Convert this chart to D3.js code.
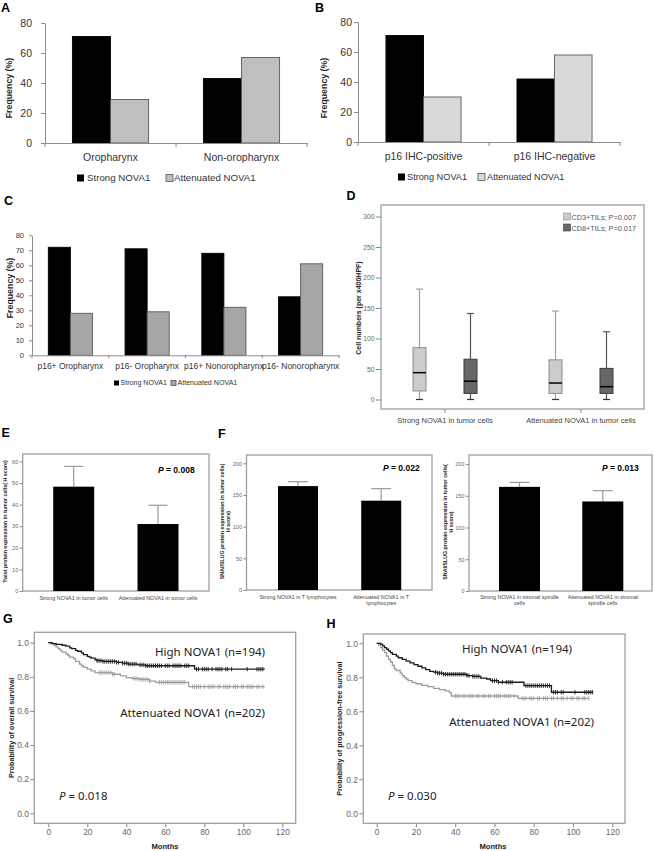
<!DOCTYPE html>
<html><head><meta charset="utf-8">
<script src="https://cdn.jsdelivr.net/npm/d3@7"></script>
<style>body{margin:0;background:#fff}svg{display:block}</style>
</head><body><svg id="fig" width="655" height="851"></svg>
<script>
// ---------------- DATA ----------------
const seriesNames = ["Strong NOVA1", "Attenuated NOVA1"];
// Panel A
const catA = ["Oropharynx", "Non-oropharynx"];
const strongA = [71, 43];
const attenA = [29, 57];
// Panel B
const catB = ["p16 IHC-positive", "p16 IHC-negative"];
const strongB = [71, 42];
const attenB = [30, 58];
const ticksAB = [0, 20, 40, 60, 80];
// Panel C
const catC = ["p16+ Oropharynx", "p16- Oropharynx", "p16+ Nonoropharynx", "p16- Nonoropharynx"];
const strongC = [72, 71, 68, 39];
const attenC = [28, 29, 32, 61];
const ticksC = [0, 10, 20, 30, 40, 50, 60, 70, 80];
// Panel D (min, q1, median, q3, max)
const catD = ["Strong NOVA1 in tumor cells", "Attenuated NOVA1 in tumor cells"];
const cd3Stats = [[0, 14, 44, 85, 181], [0, 10, 27, 65, 145]];
const cd8Stats = [[0, 10, 30, 66, 141], [0, 10, 21, 51, 111]];
const legendD = ["CD3+TILs; P=0.007", "CD8+TILs; P=0.017"];
const ticksD = [0, 50, 100, 150, 200, 250, 300];
// Panel E
const catE = [["Strong NOVA1 in tumor cells"], ["Attenuated NOVA1 in tumor cells"]];
const meanE = [48.3, 31.0];
const upperE = [57.7, 39.7];
const ticksE = [0, 10, 20, 30, 40, 50, 60];
// Panel F
const catF1 = [["Strong NOVA1 in T lymphocytes"], ["Attenuated NOVA1 in T", "lymphocytes"]];
const meanF1 = [164, 141];
const upperF1 = [171, 160];
const catF2 = [["Strong NOVA1 in stromal spindle", "cells"], ["Attenuated NOVA1 in stromal", "spindle cells"]];
const meanF2 = [164, 141];
const upperF2 = [171, 158];
const ticksF = [0, 50, 100, 150, 200];
// Panels G, H (Kaplan-Meier: [month, survival] at each drop)
const ticksKMx = [0, 20, 40, 60, 80, 100, 120];
const ticksKMy = [0, 0.2, 0.4, 0.6, 0.8, 1.0];
const gHighSteps = [[0,1],[2,0.995],[4,0.99],[7,0.985],[9,0.98],[11,0.97],[12,0.965],[14,0.955],[15,0.95],[17,0.94],[18,0.93],[20,0.92],[21,0.915],[22,0.91],[24,0.9],[25,0.895],[28,0.89],[35,0.885],[38,0.88],[41,0.875],[46,0.87],[50,0.865],[75,0.845]];
const gHighCensor = [25,26,27,28,29,30,31,32,33,34,35,36,38,39,40,41,42,43,44,45,47,48,49,50,51,52,53,54,55,56,57,58,60,61,62,64,65,66,67,68,70,71,72,76,77,79,80,81,82,84,86,87,88,89,91,92,94,102,107,108,109,110];
const gHighEnd = 111;
const gAttSteps = [[0,1],[1,0.995],[3,0.985],[4,0.975],[5,0.965],[6,0.955],[7,0.945],[9,0.935],[10,0.925],[11,0.915],[13,0.905],[14,0.89],[16,0.875],[17,0.865],[18,0.855],[20,0.845],[22,0.835],[24,0.825],[33,0.815],[37,0.805],[40,0.795],[43,0.79],[47,0.785],[52,0.775],[55,0.768],[72,0.742]];
const gAttCensor = [26,27,28,29,30,31,32,33,34,44,45,46,47,48,49,50,51,52,57,58,59,60,61,62,63,64,65,66,67,68,69,70,74,75,76,77,78,80,82,83,84,85,87,88,90,91,92,93,95,96,97,99,100,102,103,104,105,107,108,110];
const gAttEnd = 111;
const hHighSteps = [[0,1],[2,0.995],[3,0.985],[4,0.975],[5,0.965],[6,0.955],[7,0.945],[8,0.935],[10,0.925],[11,0.915],[13,0.905],[15,0.895],[17,0.885],[19,0.875],[21,0.865],[23,0.855],[25,0.845],[27,0.835],[29,0.83],[31,0.825],[34,0.818],[46,0.81],[49,0.805],[53,0.795],[56,0.79],[58,0.78],[62,0.771],[75,0.751],[89,0.712]];
const hHighCensor = [30,31,32,33,34,35,36,37,38,39,40,41,42,43,44,45,46,47,49,50,51,52,59,60,61,62,64,66,67,68,69,76,77,78,79,80,81,82,83,84,85,86,87,88,90,91,92,94,95,101,106,107,108,109,110];
const hHighEnd = 110;
const hAttSteps = [[0,1],[1,0.99],[2,0.975],[3,0.96],[4,0.945],[5,0.925],[6,0.905],[7,0.89],[8,0.87],[9,0.85],[10,0.84],[12,0.825],[13,0.81],[14,0.8],[15,0.79],[16,0.78],[18,0.77],[20,0.762],[23,0.752],[26,0.745],[29,0.735],[32,0.728],[35,0.72],[37,0.71],[38,0.69],[72,0.676]];
const hAttCensor = [40,41,42,44,45,47,48,49,51,52,54,55,57,58,60,61,62,63,65,66,67,68,70,74,75,76,78,79,80,82,83,85,86,87,89,90,92,94,95,97,99,100,102,103,105,106,108];
const hAttEnd = 108;

// ---------------- DRAWING ----------------
const FONT = '"Liberation Sans", Arial, Helvetica, sans-serif';
const svg = d3.select("#fig").attr("font-family", FONT);
svg.append("rect").attr("width", 655).attr("height", 851).attr("fill", "#fff");

function letter(t, x, y) {
  svg.append("text").attr("x", x).attr("y", y).attr("font-size", 12.5).attr("font-weight", "bold").attr("fill", "#000").text(t);
}
function vtitle(lines, x, yc, fs, gap, fill) {
  const t = svg.append("text").attr("transform", `translate(${x},${yc}) rotate(-90)`)
    .attr("text-anchor", "middle").attr("font-size", fs).attr("font-weight", "bold").attr("fill", fill || "#222");
  lines.forEach((l, i) => t.append("tspan").attr("x", 0).attr("y", (i - (lines.length - 1)) * gap).text(l));
}

// ---- Excel-style grouped bars (A, B, C)
function excelChart(o) {
  const y = d3.scaleLinear().domain([0, o.yMax]).range([o.bottom, o.top]);
  const x = d3.scaleBand().domain(o.cats).range([o.left, o.right]);
  const xs = d3.scaleBand().domain(seriesNames).range([0, x.bandwidth()]).paddingOuter(o.outerPad);
  const rows = o.cats.map((c, i) => ({ cat: c, vals: [o.strong[i], o.atten[i]] }));
  const g = svg.append("g");
  const grp = g.selectAll("g.cat").data(rows).join("g").attr("transform", d => `translate(${x(d.cat)},0)`);
  grp.selectAll("rect").data(d => d.vals.map((v, j) => ({ s: seriesNames[j], v }))).join("rect")
    .attr("x", d => xs(d.s)).attr("width", xs.bandwidth())
    .attr("y", d => y(d.v)).attr("height", d => y(0) - y(d.v))
    .attr("fill", d => d.s === seriesNames[0] ? "#000" : o.attFill)
    .attr("stroke", d => d.s === seriesNames[0] ? "#000" : o.attStroke).attr("stroke-width", 0.9);
  const ya = g.append("g").attr("transform", `translate(${o.left},0)`)
    .call(d3.axisLeft(y).tickValues(o.ticks).tickSize(o.tickLen).tickSizeOuter(0).tickPadding(o.tickPad));
  ya.attr("font-family", FONT).attr("font-size", o.tickFs);
  ya.select(".domain").attr("stroke", "#8c8c8c");
  ya.selectAll(".tick line").attr("stroke", "#8c8c8c");
  ya.selectAll(".tick text").attr("fill", "#333");
  const xa = g.append("g").attr("transform", `translate(0,${o.bottom})`)
    .call(d3.axisBottom(x).tickSize(0).tickSizeOuter(0));
  xa.attr("font-family", FONT).attr("font-size", o.catFs);
  xa.select(".domain").attr("stroke", "#8c8c8c");
  xa.selectAll(".tick text").attr("y", o.catY - o.bottom).attr("dy", 0).attr("fill", "#333");
  const bounds = o.cats.map(c => x(c)).concat([x(o.cats[o.cats.length - 1]) + x.bandwidth()]);
  g.selectAll("line.bnd").data(bounds).join("line").attr("x1", d => d).attr("x2", d => d)
    .attr("y1", o.bottom).attr("y2", o.bottom + o.tickLen).attr("stroke", "#8c8c8c");
  vtitle(["Frequency (%)"], o.titleX, o.titleY, o.titleFs, 0, "#222");
  // legend
  const lg = svg.append("g").attr("font-size", o.legFs).attr("fill", "#333");
  const ls = o.legSq;
  lg.append("rect").attr("x", o.leg[0]).attr("y", o.legY - ls + 0.5).attr("width", ls).attr("height", ls).attr("fill", "#000");
  lg.append("text").attr("x", o.leg[1]).attr("y", o.legY).text(seriesNames[0]);
  lg.append("rect").attr("x", o.leg[2]).attr("y", o.legY - ls + 0.5).attr("width", ls).attr("height", ls)
    .attr("fill", o.attFill).attr("stroke", "#555").attr("stroke-width", 0.8);
  lg.append("text").attr("x", o.leg[3]).attr("y", o.legY).text(seriesNames[1]);
}

excelChart({ cats: catA, strong: strongA, atten: attenA, yMax: 80, ticks: ticksAB,
  left: 45, right: 307, top: 23, bottom: 143, outerPad: 0.72, attFill: "#bfbfbf", attStroke: "#595959",
  tickLen: 4, tickPad: 9, tickFs: 10.5, catFs: 10.5, catY: 161, titleX: 12, titleY: 88, titleFs: 8.8,
  legFs: 9.7, legSq: 7, legY: 181, leg: [77, 87, 166, 174] });
excelChart({ cats: catB, strong: strongB, atten: attenB, yMax: 80, ticks: ticksAB,
  left: 358, right: 620, top: 22, bottom: 142, outerPad: 0.745, attFill: "#d9d9d9", attStroke: "#595959",
  tickLen: 4, tickPad: 2, tickFs: 10.5, catFs: 10.5, catY: 160, titleX: 327, titleY: 88, titleFs: 8.8,
  legFs: 9.2, legSq: 7, legY: 180, leg: [398, 407, 478, 487] });
excelChart({ cats: catC, strong: strongC, atten: attenC, yMax: 80, ticks: ticksC,
  left: 32, right: 339, top: 235.3, bottom: 355.3, outerPad: 0.74, attFill: "#a6a6a6", attStroke: "#595959",
  tickLen: 3, tickPad: 5, tickFs: 7.5, catFs: 8.5, catY: 369, titleX: 12.5, titleY: 288, titleFs: 8.8,
  legFs: 7.1, legSq: 5, legY: 385, leg: [114, 120.5, 171, 177.5] });

// ---- SPSS-style frame helpers
function frame(L) {
  svg.append("rect").attr("x", L.left).attr("y", L.top).attr("width", L.right - L.left).attr("height", L.bottom - L.top)
    .attr("fill", "none").attr("stroke", "#a0a0a0").attr("stroke-width", 1.3);
}
function yAxisSpss(y, ticks, x, fs, fmt, len) {
  const ya = svg.append("g").attr("transform", `translate(${x},0)`)
    .call(d3.axisLeft(y).tickValues(ticks).tickSize(len || 4).tickSizeOuter(0).tickPadding(1.5).tickFormat(fmt || d3.format("d")));
  ya.attr("font-family", FONT).attr("font-size", fs);
  ya.select(".domain").remove();
  ya.selectAll(".tick line").attr("stroke", "#888");
  ya.selectAll(".tick text").attr("fill", "#666");
  return ya;
}

// ---- Panel D: box plots
(function () {
  const L = { left: 381, right: 644, top: 205, bottom: 409 };
  frame(L);
  const y = d3.scaleLinear().domain([0, 300]).range([399.5, 216.5]);
  const x = d3.scalePoint().domain(catD).range([445, 581]);
  const off = d3.scalePoint().domain(["CD3", "CD8"]).range([-25.5, 25.5]);
  yAxisSpss(y, ticksD, L.left, 6.8, null, 5);
  const g = svg.append("g");
  const sets = [
    { key: "CD3", stats: cd3Stats, fill: "#cccccc", stroke: "#8c8c8c", wh: "#a0a0a0" },
    { key: "CD8", stats: cd8Stats, fill: "#676767", stroke: "#3c3c3c", wh: "#555" }];
  const bw = 13, cap = 3.5;
  sets.forEach(s => {
    s.stats.forEach((st, i) => {
      const cx = x(catD[i]) + off(s.key);
      const [mn, q1, md, q3, mx] = st;
      g.append("line").attr("x1", cx).attr("x2", cx).attr("y1", y(q3)).attr("y2", y(mx)).attr("stroke", s.wh).attr("stroke-width", 1.2);
      g.append("line").attr("x1", cx).attr("x2", cx).attr("y1", y(q1)).attr("y2", y(mn)).attr("stroke", s.wh).attr("stroke-width", 1.2);
      g.append("line").attr("x1", cx - cap).attr("x2", cx + cap).attr("y1", y(mx)).attr("y2", y(mx)).attr("stroke", s.wh).attr("stroke-width", 1.2);
      g.append("line").attr("x1", cx - cap).attr("x2", cx + cap).attr("y1", y(mn)).attr("y2", y(mn)).attr("stroke", "#333").attr("stroke-width", 1.2);
      g.append("rect").attr("x", cx - bw / 2).attr("width", bw).attr("y", y(q3)).attr("height", y(q1) - y(q3))
        .attr("fill", s.fill).attr("stroke", s.stroke).attr("stroke-width", 1);
      g.append("line").attr("x1", cx - bw / 2).attr("x2", cx + bw / 2).attr("y1", y(md)).attr("y2", y(md)).attr("stroke", "#000").attr("stroke-width", 1.5);
    });
  });
  // x axis ticks + labels
  catD.forEach(c => {
    svg.append("line").attr("x1", x(c)).attr("x2", x(c)).attr("y1", L.bottom).attr("y2", L.bottom + 4).attr("stroke", "#888");
    svg.append("text").attr("x", x(c)).attr("y", 422.5).attr("text-anchor", "middle").attr("font-size", 7.5).attr("fill", "#444").text(c);
  });
  // legend
  sets.forEach((s, i) => {
    svg.append("rect").attr("x", 563.5).attr("y", 213 + i * 11).attr("width", 7).attr("height", 7).attr("fill", s.fill).attr("stroke", s.stroke).attr("stroke-width", 0.6);
    svg.append("text").attr("x", 571.5).attr("y", 220 + i * 11).attr("font-size", 7.3).attr("fill", "#555").text(legendD[i]);
  });
  vtitle(["Cell numbers (per x400HPF)"], 360.5, 308, 7, 0, "#222");
})();

// ---- Panels E, F: mean bars with upper error bars
function errBars(o) {
  frame(o.L);
  const y = d3.scaleLinear().domain([0, o.yMax]).range([o.L.bottom, o.yTopPx]);
  const x = d3.scalePoint().domain(o.cats.map(c => c.join(" "))).range(o.xr);
  yAxisSpss(y, o.ticks, o.L.left, 5.5, null, 3);
  const rows = o.cats.map((c, i) => ({ key: c.join(" "), lines: c, m: o.mean[i], u: o.upper[i] }));
  const g = svg.append("g");
  g.selectAll("line.err").data(rows).join("line").attr("x1", d => x(d.key)).attr("x2", d => x(d.key))
    .attr("y1", d => y(d.m)).attr("y2", d => y(d.u)).attr("stroke", "#9a9a9a").attr("stroke-width", 1.2);
  g.selectAll("line.cap").data(rows).join("line").attr("x1", d => x(d.key) - o.cap).attr("x2", d => x(d.key) + o.cap)
    .attr("y1", d => y(d.u)).attr("y2", d => y(d.u)).attr("stroke", "#9a9a9a").attr("stroke-width", 1.2);
  g.selectAll("rect").data(rows).join("rect").attr("x", d => x(d.key) - o.bw / 2).attr("width", o.bw)
    .attr("y", d => y(d.m)).attr("height", d => y(0) - y(d.m)).attr("fill", "#000");
  rows.forEach(d => {
    const t = svg.append("text").attr("text-anchor", "middle").attr("font-size", o.catFs).attr("fill", "#444");
    d.lines.forEach((l, i) => t.append("tspan").attr("x", x(d.key)).attr("y", o.catY + i * 6.3).text(l));
  });
  const p = svg.append("text").attr("x", o.pX).attr("y", o.pY).attr("font-size", 8.5).attr("font-weight", "bold").attr("fill", "#000");
  p.append("tspan").attr("font-style", "italic").text("P");
  p.append("tspan").text(" = " + o.pVal);
  vtitle(o.title, o.titleX, (o.L.top + o.L.bottom) / 2 - 1, 5.3, 5.6, "#222");
}
errBars({ L: { left: 22.7, right: 209, top: 454, bottom: 591 }, yMax: 60, yTopPx: 461.4, ticks: ticksE,
  cats: catE, mean: meanE, upper: upperE, xr: [73.7, 158], bw: 41, cap: 9.5, catFs: 5.4, catY: 599.5,
  pX: 158, pY: 473, pVal: "0.008", title: ["Twist protein expression in tumor cells( H score)"], titleX: 7 });
errBars({ L: { left: 246.5, right: 432, top: 455, bottom: 590 }, yMax: 200, yTopPx: 463.3, ticks: ticksF,
  cats: catF1, mean: meanF1, upper: upperF1, xr: [298, 381.2], bw: 40, cap: 10, catFs: 5.4, catY: 599,
  pX: 383, pY: 470.5, pVal: "0.022", title: ["SNAI/SLUG protein expression in tumor cells(", "H score)"], titleX: 229.5 });
errBars({ L: { left: 469, right: 652, top: 455, bottom: 591 }, yMax: 200, yTopPx: 464, ticks: ticksF,
  cats: catF2, mean: meanF2, upper: upperF2, xr: [519.5, 602.8], bw: 41, cap: 10, catFs: 5.4, catY: 599,
  pX: 602, pY: 470.5, pVal: "0.013", title: ["SNAI/SLUG protein expression in tumor cells(", "H score)"], titleX: 452.5 });

// ---- Panels G, H: Kaplan-Meier
function kmPanel(o) {
  frame(o.L);
  const x = d3.scaleLinear().domain([0, 120]).range(o.xr);
  const y = d3.scaleLinear().domain([0, 1]).range(o.yr);
  yAxisSpss(y, ticksKMy, o.L.left, 8.4, d3.format(".1f"), 4);
  const xa = svg.append("g").attr("transform", `translate(0,${o.L.bottom})`)
    .call(d3.axisBottom(x).tickValues(ticksKMx).tickSize(4).tickSizeOuter(0).tickPadding(2));
  xa.attr("font-family", FONT).attr("font-size", 8.4);
  xa.select(".domain").remove();
  xa.selectAll(".tick line").attr("stroke", "#888");
  xa.selectAll(".tick text").attr("fill", "#666");
  const line = d3.line().x(d => x(d[0])).y(d => y(d[1]));
  o.curves.forEach(c => {
    const pts = [];
    c.steps.forEach((s, i) => { if (i > 0) pts.push([s[0], c.steps[i - 1][1]]); pts.push(s); });
    pts.push([c.end, c.steps[c.steps.length - 1][1]]);
    svg.append("path").attr("d", line(pts)).attr("fill", "none").attr("stroke", c.color).attr("stroke-width", 1.3);
    const surv = t => { let v = 1; c.steps.forEach(s => { if (s[0] <= t) v = s[1]; }); return v; };
    svg.append("g").selectAll("line").data(c.censor).join("line")
      .attr("x1", d => x(d)).attr("x2", d => x(d)).attr("y1", d => y(surv(d)) - 2.2).attr("y2", d => y(surv(d)) + 2.2)
      .attr("stroke", c.color).attr("stroke-width", 0.9);
  });
  const AF = '"Noto Sans", "Liberation Sans", sans-serif';
  svg.append("text").attr("x", o.hiX).attr("y", o.hiY).attr("text-anchor", "end").attr("font-family", AF).attr("font-size", 11.5).attr("fill", "#222").text("High NOVA1 (n=194)");
  svg.append("text").attr("x", o.atX).attr("y", o.atY).attr("text-anchor", "end").attr("font-family", AF).attr("font-size", 11.5).attr("fill", "#222").text("Attenuated NOVA1 (n=202)");
  const p = svg.append("text").attr("x", o.pX).attr("y", o.pY).attr("font-family", AF).attr("font-size", 11.5).attr("fill", "#222");
  p.append("tspan").attr("font-style", "italic").text("P");
  p.append("tspan").text(" = " + o.pVal);
  svg.append("text").attr("x", o.monX).attr("y", 848.5).attr("text-anchor", "middle").attr("font-size", 7.6).attr("font-weight", "bold").attr("fill", "#222").text("Months");
  vtitle([o.title], o.titleX, (o.L.top + o.L.bottom) / 2, 7.2, 0, "#222");
}
kmPanel({ L: { left: 34.3, right: 295.7, top: 632.3, bottom: 823.3 }, xr: [48.3, 282.3], yr: [813.3, 642.7],
  curves: [
    { steps: gAttSteps, censor: gAttCensor, end: gAttEnd, color: "#9d9d9d" },
    { steps: gHighSteps, censor: gHighCensor, end: gHighEnd, color: "#1a1a1a" }],
  hiX: 265, hiY: 656, atX: 265, atY: 716.5, pX: 59, pY: 799.5, pVal: "0.018", monX: 165,
  title: "Probability of overall survival", titleX: 14 });
kmPanel({ L: { left: 363.3, right: 625, top: 634, bottom: 823.3 }, xr: [376.7, 612.3], yr: [813.3, 643.3],
  curves: [
    { steps: hAttSteps, censor: hAttCensor, end: hAttEnd, color: "#9d9d9d" },
    { steps: hHighSteps, censor: hHighCensor, end: hHighEnd, color: "#1a1a1a" }],
  hiX: 572, hiY: 652.5, atX: 594, atY: 726, pX: 388, pY: 800, pVal: "0.030", monX: 493,
  title: "Probability of progression-free survival", titleX: 342 });

// panel letters
letter("A", 1, 12); letter("B", 315, 12); letter("C", 4, 205); letter("D", 346.5, 200);
letter("E", 1.5, 437); letter("F", 218, 438); letter("G", 3, 622.5); letter("H", 326.5, 628);
</script></body></html>
